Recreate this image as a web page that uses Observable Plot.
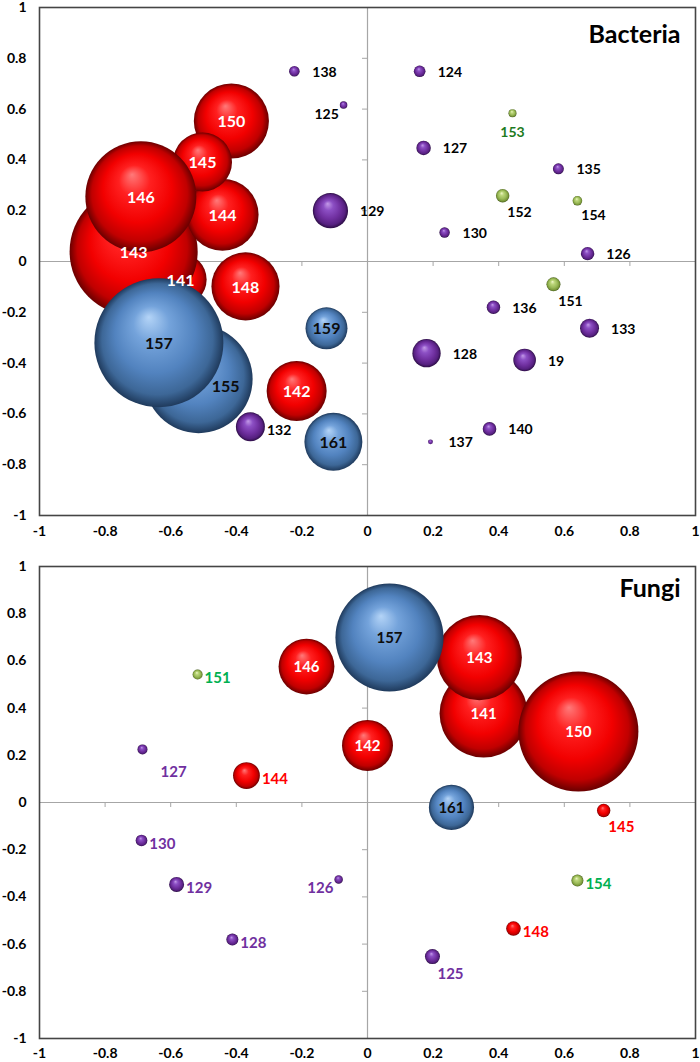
<!DOCTYPE html>
<html>
<head>
<meta charset="utf-8">
<script src="https://cdn.jsdelivr.net/npm/d3@7"></script>
<script src="https://cdn.jsdelivr.net/npm/@observablehq/plot@0.6"></script>
<style>
  html, body { margin: 0; padding: 0; background: #ffffff; }
  #chart svg { display: block; }
</style>
</head>
<body>
<div id="chart"></div>
<script>
// ---------------- DATA ----------------
// Axis ticks (both panels, both axes)
const axisTicks  = [-1, -0.8, -0.6, -0.4, -0.2, 0, 0.2, 0.4, 0.6, 0.8, 1];
const tickLabels = ["-1", "-0.8", "-0.6", "-0.4", "-0.2", "0", "0.2", "0.4", "0.6", "0.8", "1"];
const zeroLineTicks = [-0.8, -0.6, -0.4, -0.2, 0.2, 0.4, 0.6, 0.8];

// Panel 1: Bacteria (drawing order = back to front)
const bacTitle = "Bacteria";
const bacId    = ["141","143","150","144","145","146","148","142","155","157","159","161","132","129","138","125","124","127","135","130","126","136","133","128","19","140","137","153","152","154","151"];
const bacX     = [-0.570,-0.713,-0.415,-0.442,-0.503,-0.691,-0.372,-0.216,-0.515,-0.636,-0.125,-0.104,-0.357,-0.113,-0.223,-0.073, 0.159, 0.171, 0.582, 0.235, 0.671, 0.384, 0.677, 0.180, 0.479, 0.372, 0.192, 0.442, 0.412, 0.640, 0.567];
const bacY     = [-0.071, 0.039, 0.553, 0.184, 0.392, 0.255,-0.098,-0.510,-0.463,-0.320,-0.263,-0.710,-0.651, 0.200, 0.749, 0.616, 0.749, 0.447, 0.365, 0.114, 0.031,-0.180,-0.263,-0.361,-0.388,-0.659,-0.710, 0.584, 0.259, 0.239,-0.090];
const bacSize  = [68, 410, 141, 130, 87, 308, 116, 90, 292, 416, 44, 84, 21, 31, 2.8, 1.4, 3.4, 5.2, 3.0, 2.7, 4.5, 4.5, 9.0, 20, 12.8, 4.6, 0.6, 1.6, 4.5, 2.3, 4.9];
const bacGroup = ["red","red","red","red","red","red","red","red","blue","blue","blue","blue","purple","purple","purple","purple","purple","purple","purple","purple","purple","purple","purple","purple","purple","purple","purple","green","green","green","green"];
const bacLabelPos = ["c","c","c","c","c","c","c","c","in","c","c","c","e","r","r","w","r","r","r","r","r","r","r","r","r","r","r","s","se","se","se"];

// Panel 2: Fungi (drawing order = back to front)
const funTitle = "Fungi";
const funId    = ["141","143","150","157","146","142","161","144","151","127","145","154","148","125","130","129","126","128"];
const funX     = [0.354, 0.341, 0.643, 0.067,-0.186, 0.000, 0.256,-0.369,-0.518,-0.686, 0.720, 0.640, 0.445, 0.198,-0.689,-0.582,-0.088,-0.412];
const funY     = [0.377, 0.614, 0.301, 0.699, 0.576, 0.242,-0.021, 0.114, 0.542, 0.225,-0.034,-0.331,-0.534,-0.653,-0.161,-0.347,-0.326,-0.581];
const funSize  = [194, 181, 360, 292, 78, 65, 51, 18, 2.5, 2.5, 4.5, 3.6, 5.3, 5.6, 3.4, 5.6, 1.8, 3.6];
const funGroup = ["red","red","red","blue","red","red","blue","red","green","purple","red","green","red","purple","purple","purple","purple","purple"];
const funLabelPos = ["c","c","c","c","c","c","c","e","e","sfe","se","e","e","se","e","e","w","e"];

// ---------------- STYLE ----------------
const FONT = "Lato, 'Open Sans', 'DejaVu Sans', sans-serif";
const gradients = {
  red:    [["0%", "#ff7a7a"], ["28%", "#ff2020"], ["62%", "#f20000"], ["86%", "#c00000"], ["100%", "#6a0000"]],
  blue:   [["0%", "#b4d4f7"], ["28%", "#74a3db"], ["62%", "#5283bf"], ["86%", "#3d6797"], ["100%", "#1f3a5c"]],
  purple: [["0%", "#c39ae8"], ["28%", "#8c4fc4"], ["62%", "#7030a0"], ["86%", "#562080"], ["100%", "#2c0d45"]],
  green:  [["0%", "#eef7c8"], ["28%", "#bcd67a"], ["62%", "#9bbb59"], ["86%", "#7a983a"], ["100%", "#4a6020"]]
};
const groupText = { red: "#ff0000", blue: "#1f3a5c", purple: "#7030a0", green: "#00b050" };

function addGradients(svg, prefix) {
  const defs = d3.select(svg).insert("defs", ":first-child");
  for (const [name, stops] of Object.entries(gradients)) {
    const g = defs.append("radialGradient")
      .attr("id", prefix + name)
      .attr("cx", "0.5").attr("cy", "0.5").attr("r", "0.5")
      .attr("fx", "0.42").attr("fy", "0.3");
    for (const [o, c] of stops) g.append("stop").attr("offset", o).attr("stop-color", c);
  }
}

function panel(cfg) {
  const W = 700, mL = 39, mR = 5;
  const data = cfg.ids.map((id, i) => ({
    id, x: cfg.xs[i], y: cfg.ys[i], size: cfg.sizes[i], group: cfg.groups[i], pos: cfg.pos[i]
  }));
  const kx = (W - mL - mR) / 2;
  const ky = (cfg.height - cfg.marginTop - cfg.marginBottom) / 2;
  const sMax = d3.max(cfg.sizes);
  const rpx = s => cfg.rMax * Math.sqrt(s / sMax);
  const off = d => {
    const r = rpx(d.size);
    switch (d.pos) {
      case "c":   return [0, 1];
      case "in":  return [r * 0.5, 8];
      case "r":   return [Math.max(r + 12, 18), 1];
      case "e":   return [r + 2, 4];
      case "se":  return [r * 0.4 + 2, r + 10];
      case "sfe": return [r + 13, r + 18];
      case "s":   return [0, r + 15];
      case "w":   return [-r - 1, 9];
    }
    return [0, 0];
  };
  const lx = d => d.x + off(d)[0] / kx;
  const ly = d => d.y - off(d)[1] / ky;
  const isInner = d => d.pos === "c" || d.pos === "in";
  const innerColor = d => d.group === "red" ? "#ffffff" : "#0d0d0d";
  const outerColor = d => cfg.outerMode === "group" ? groupText[d.group]
                        : (cfg.tinted.includes(d.id) ? "#1e7b1e" : "#000000");
  const fmt = d => tickLabels[axisTicks.findIndex(t => Math.abs(t - d) < 1e-9)];
  const prefix = cfg.prefix;

  const svg = Plot.plot({
    width: W,
    height: cfg.height,
    marginLeft: mL,
    marginRight: mR,
    marginTop: cfg.marginTop,
    marginBottom: cfg.marginBottom,
    style: { fontFamily: FONT, fontSize: "14px", fontWeight: "bold", color: "#000", background: "#fff", overflow: "visible" },
    x: { domain: [-1, 1], ticks: axisTicks, tickSize: 0, tickPadding: cfg.xPad, tickFormat: fmt, label: null },
    y: { domain: [-1, 1], ticks: axisTicks, tickSize: 0, tickPadding: 13, tickFormat: fmt, label: null },
    r: { type: "sqrt", domain: [0, sMax], range: [0, cfg.rMax] },
    color: { type: "identity" },
    marks: [
      Plot.ruleX([0], { stroke: "#a6a6a6", strokeWidth: 1.2 }),
      Plot.ruleY([0], { stroke: "#a6a6a6", strokeWidth: 1.2 }),
      Plot.ruleY(zeroLineTicks, { y: d => d, x1: 0, x2: -5 / kx, stroke: "#a6a6a6" }),
      Plot.ruleX(zeroLineTicks, { x: d => d, y1: 0, y2: -5 / ky, stroke: "#a6a6a6" }),
      Plot.frame({ stroke: "#454545", strokeWidth: 1.6 }),
      Plot.dot(data, {
        x: "x", y: "y", r: "size",
        fill: d => `url(#${prefix}${d.group})`,
        stroke: "none",
        sort: null
      }),
      Plot.text(data.filter(isInner), {
        x: lx, y: ly, text: "id", fill: innerColor,
        fontSize: cfg.innerFont, fontWeight: "bold", textAnchor: "middle"
      }),
      Plot.text(data.filter(d => d.pos === "s"), {
        x: lx, y: ly, text: "id", fill: outerColor,
        fontSize: cfg.outerFont, fontWeight: "bold", textAnchor: "middle"
      }),
      Plot.text(data.filter(d => ["r", "e", "se", "sfe"].includes(d.pos)), {
        x: lx, y: ly, text: "id", fill: outerColor,
        fontSize: cfg.outerFont, fontWeight: "bold", textAnchor: "start"
      }),
      Plot.text(data.filter(d => d.pos === "w"), {
        x: lx, y: ly, text: "id", fill: outerColor,
        fontSize: cfg.outerFont, fontWeight: "bold", textAnchor: "end"
      }),
      Plot.text([cfg.title], {
        frameAnchor: "top-right", textAnchor: "end", lineAnchor: "top",
        dx: -15, dy: cfg.titleDy, fontSize: 25, fontWeight: "bold", fill: "#000"
      })
    ]
  });
  addGradients(svg, prefix);
  return svg;
}

const bacteriaSvg = panel({
  prefix: "gb-", title: bacTitle,
  ids: bacId, xs: bacX, ys: bacY, sizes: bacSize, groups: bacGroup, pos: bacLabelPos,
  height: 540, marginTop: 7, marginBottom: 25, xPad: 11, titleDy: 18,
  rMax: 64.5, innerFont: 16, outerFont: 14, outerMode: "black", tinted: ["153"]
});
const fungiSvg = panel({
  prefix: "gf-", title: funTitle,
  ids: funId, xs: funX, ys: funY, sizes: funSize, groups: funGroup, pos: funLabelPos,
  height: 522, marginTop: 26, marginBottom: 24, xPad: 10, titleDy: 13,
  rMax: 60, innerFont: 15, outerFont: 15, outerMode: "group", tinted: []
});
document.getElementById("chart").append(bacteriaSvg, fungiSvg);
</script>
</body>
</html>
